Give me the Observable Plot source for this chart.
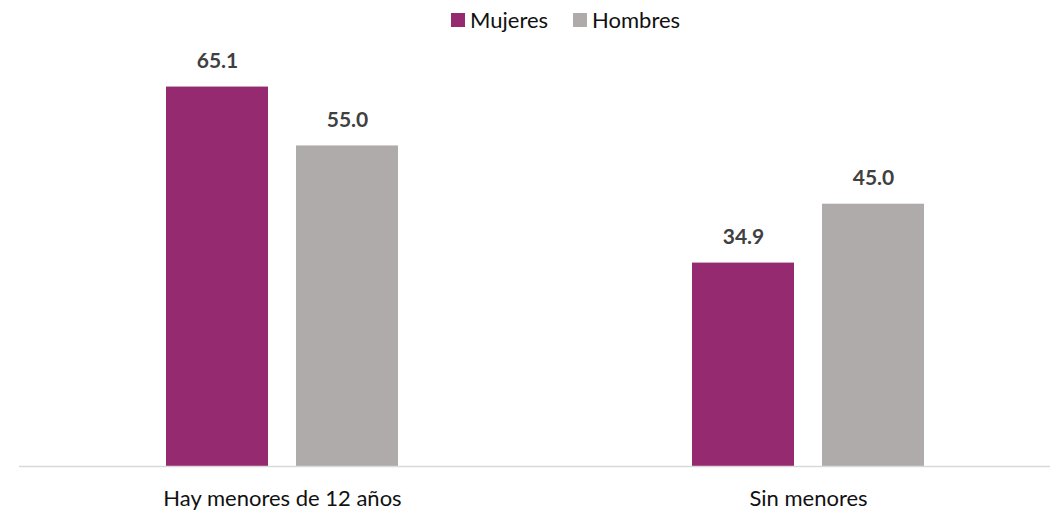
<!DOCTYPE html>
<html>
<head>
<meta charset="utf-8">
<script src="https://cdn.jsdelivr.net/npm/d3@7"></script>
<script src="https://cdn.jsdelivr.net/npm/@observablehq/plot@0.6"></script>
<style>
  html, body { margin: 0; padding: 0; background: #fff; overflow: hidden; }
  #wrap { position: relative; width: 1050px; height: 511px; }
  #legend { position: absolute; left: 451px; top: 9px; display: flex; align-items: center;
            font-family: Lato, sans-serif; font-size: 22px; line-height: 22px; color: #111; }
  .item { display: flex; align-items: center; margin-right: 25px; }
  .sw { width: 14px; height: 14px; margin-right: 5px; }
</style>
</head>
<body>
<div id="wrap">
  <div id="legend"></div>
</div>
<script>
const categories = ["Hay menores de 12 años", "Sin menores"];
const sexes = ["Mujeres", "Hombres"];
const mujeres = [65.1, 34.9];
const hombres = [55.0, 45.0];
const colors = ["#952a70", "#afabab"];

const data = categories.flatMap((c, i) => [
  {cat: c, sex: sexes[0], value: mujeres[i]},
  {cat: c, sex: sexes[1], value: hombres[i]}
]);

const legend = document.getElementById("legend");
sexes.forEach((s, i) => {
  const it = document.createElement("div");
  it.className = "item";
  const sw = document.createElement("div");
  sw.className = "sw";
  sw.style.background = colors[i];
  const t = document.createElement("span");
  t.textContent = s;
  it.appendChild(sw); it.appendChild(t);
  legend.appendChild(it);
});

const chart = Plot.plot({
  width: 1050,
  height: 511,
  marginTop: 58,
  marginBottom: 45,
  marginLeft: 20,
  marginRight: 0,
  style: {fontFamily: "Lato, sans-serif", fontSize: "22px", color: "#111", background: "transparent"},
  facet: {data, x: "cat"},
  fx: {domain: categories, range: [19, 1071], padding: 0, label: null, tickSize: 0, tickPadding: 24},
  x: {domain: sexes, paddingInner: 0.2154, paddingOuter: 1.1308, round: false, axis: null},
  y: {domain: [0, 70], axis: null},
  color: {domain: sexes, range: colors},
  marks: [
    Plot.barY(data, {x: "sex", y: "value", fill: "sex"}),
    Plot.text(data, {x: "sex", y: "value", text: d => d.value.toFixed(1), dy: -26,
      fill: "#404040", fontWeight: "bold", fontSize: 21}),
    Plot.ruleY([0], {stroke: "#d9d9d9", strokeWidth: 1.5})
  ]
});
chart.style.position = "absolute";
chart.style.left = "0";
chart.style.top = "0";
document.getElementById("wrap").appendChild(chart);
</script>
</body>
</html>
